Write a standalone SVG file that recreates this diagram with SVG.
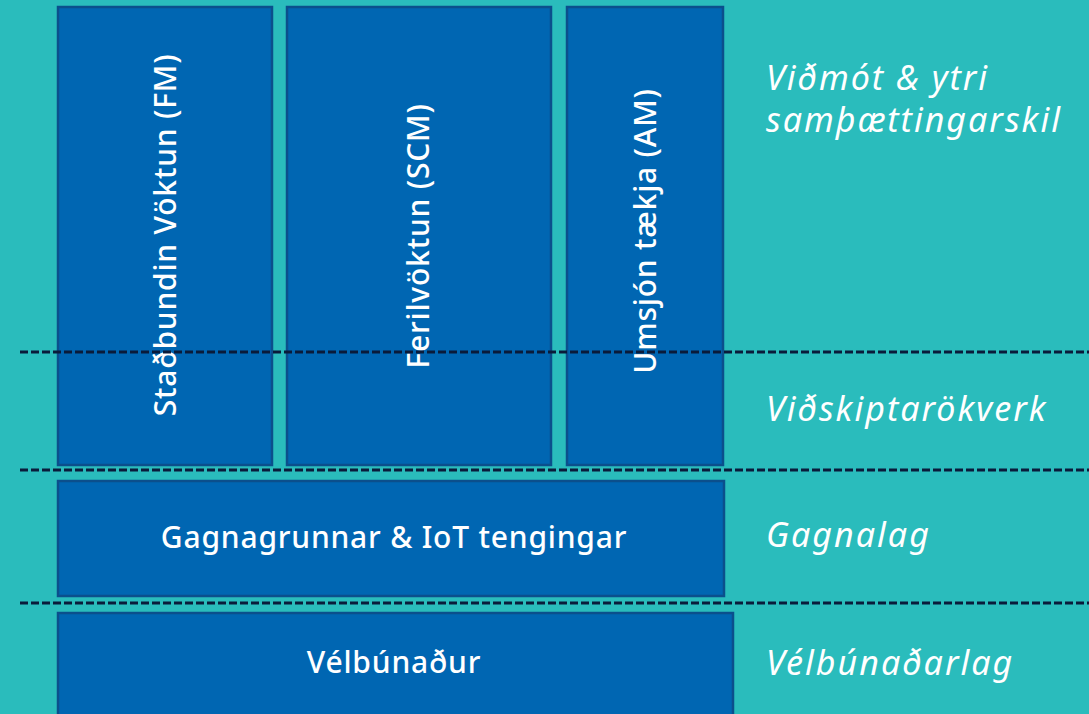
<svg xmlns="http://www.w3.org/2000/svg" width="1089" height="714" viewBox="0 0 1089 714">
<style>
.box{fill:#0066b2;stroke:#0b4f8c;stroke-width:2.5}
.bt{fill:#ffffff;font-family:"Noto Sans",sans-serif;font-size:30px;font-weight:500;letter-spacing:0.8px;text-anchor:middle}
.lab{fill:#ffffff;font-family:"Noto Sans",sans-serif;font-size:34px;font-style:italic;letter-spacing:2px}
.div{stroke:#0a1b3a;stroke-width:2.8;stroke-dasharray:8,3;fill:none}
</style>
<rect x="0" y="0" width="1089" height="714" fill="#2abcbc"/>
<g id="fm">
<rect class="box" x="58" y="7" width="214" height="458"/>
<text class="bt" transform="translate(176,235) rotate(-90)">Staðbundin Vöktun (FM)</text>
</g>
<g id="scm">
<rect class="box" x="287" y="7" width="264" height="458"/>
<text class="bt" transform="translate(429,236) rotate(-90)">Ferilvöktun (SCM)</text>
</g>
<g id="am">
<rect class="box" x="567" y="7" width="156" height="458"/>
<text class="bt" transform="translate(656,231) rotate(-90)">Umsjón tækja (AM)</text>
</g>
<g id="data">
<rect class="box" x="58" y="481" width="666" height="115"/>
<text class="bt" x="394" y="548">Gagnagrunnar &amp; IoT tengingar</text>
</g>
<g id="hw">
<rect class="box" x="58" y="613" width="675" height="110"/>
<text class="bt" x="394" y="673">Vélbúnaður</text>
</g>
<g id="dividers">
<line class="div" x1="20" y1="352" x2="1089" y2="352"/>
<line class="div" x1="20" y1="470" x2="1089" y2="470"/>
<line class="div" x1="20" y1="603" x2="1089" y2="603"/>
</g>
<g id="labels">
<text class="lab" x="766" y="90">Viðmót &amp; ytri</text>
<text class="lab" x="766" y="132">samþættingarskil</text>
<text class="lab" x="766" y="421">Viðskiptarökverk</text>
<text class="lab" x="766" y="547">Gagnalag</text>
<text class="lab" x="766" y="675">Vélbúnaðarlag</text>
</g>
</svg>
